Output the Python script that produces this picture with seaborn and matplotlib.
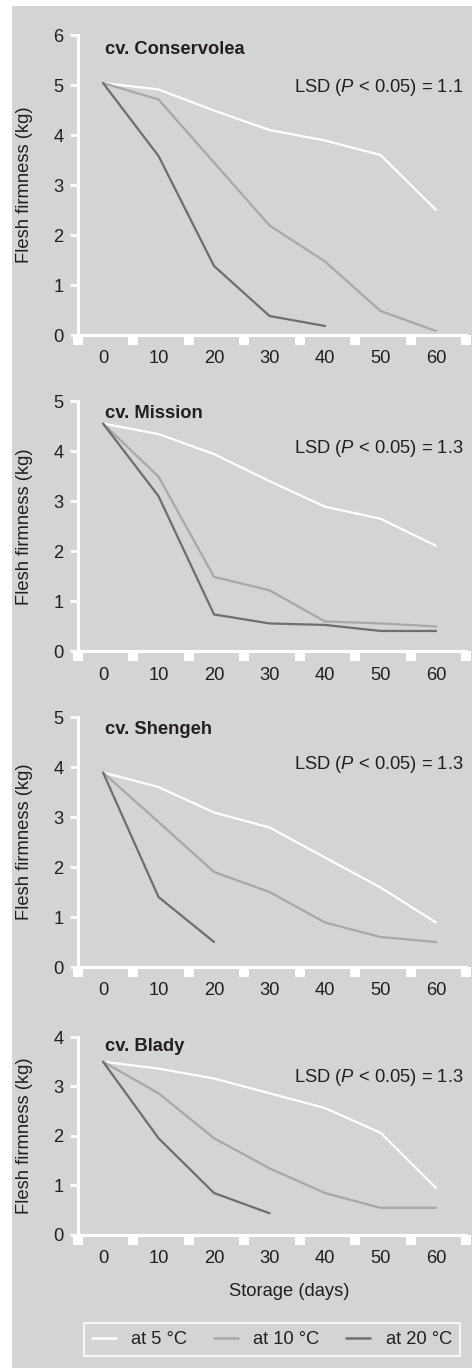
import matplotlib
matplotlib.use("Agg")
import matplotlib.pyplot as plt
import seaborn as sns
import pandas as pd
import numpy as np
from matplotlib.patches import Rectangle

# data
days = [0, 10, 20, 30, 40, 50, 60]
temps = ["at 5 °C", "at 10 °C", "at 20 °C"]
cultivars = ["cv. Conservolea", "cv. Mission", "cv. Shengeh", "cv. Blady"]
lsd_values = ["1.1", "1.3", "1.3", "1.3"]
y_max = [6, 5, 5, 4]

conservolea_5 = [5.04, 4.91, 4.49, 4.10, 3.89, 3.60, 2.50]
conservolea_10 = [5.04, 4.71, 3.45, 2.19, 1.47, 0.48, 0.08]
conservolea_20 = [5.04, 3.58, 1.38, 0.38, 0.18]
mission_5 = [4.55, 4.34, 3.94, 3.40, 2.89, 2.65, 2.11]
mission_10 = [4.55, 3.49, 1.49, 1.22, 0.60, 0.56, 0.50]
mission_20 = [4.55, 3.10, 0.74, 0.56, 0.53, 0.41, 0.41]
shengeh_5 = [3.89, 3.60, 3.09, 2.79, 2.19, 1.59, 0.89]
shengeh_10 = [3.89, 2.90, 1.90, 1.50, 0.89, 0.60, 0.50]
shengeh_20 = [3.89, 1.40, 0.50]
blady_5 = [3.50, 3.36, 3.16, 2.86, 2.56, 2.06, 0.94]
blady_10 = [3.50, 2.86, 1.95, 1.34, 0.84, 0.54, 0.54]
blady_20 = [3.50, 1.95, 0.84, 0.43]

series = [
    [conservolea_5, conservolea_10, conservolea_20],
    [mission_5, mission_10, mission_20],
    [shengeh_5, shengeh_10, shengeh_20],
    [blady_5, blady_10, blady_20],
]

BG = "#d3d4d6"
TXT = "#231f20"
FS = 13.2
palette = {"at 5 °C": "#ffffff", "at 10 °C": "#a7a8aa", "at 20 °C": "#6d6e70"}

sns.set_style("ticks", rc={"axes.facecolor": BG, "axes.edgecolor": "white"})
plt.rcParams["font.family"] = ["Liberation Sans", "DejaVu Sans"]
plt.rcParams["mathtext.fontset"] = "custom"
plt.rcParams["mathtext.it"] = "Liberation Sans:italic"
plt.rcParams["mathtext.rm"] = "Liberation Sans"
plt.rcParams["font.size"] = FS

W, H = 472, 1369
fig = plt.figure(figsize=(W / 100, H / 100), dpi=100, facecolor="white")
bg = Rectangle((12 / W, 1 - 1368 / H), (W - 12) / W, 1362 / H,
               transform=fig.transFigure, facecolor=BG, edgecolor="none", zorder=-10)
fig.patches.append(bg)

# pixel extents (top, bottom) of each panel
panel_px = [(35, 335), (401, 651.5), (717, 967), (1037, 1234.5)]
lsd_y = [4.96, 4.06, 4.06, 3.17]
left_px, right_px = 77.5, 466

axes = []
for i, (top, bot) in enumerate(panel_px):
    ax = fig.add_axes([left_px / W, 1 - bot / H, (right_px - left_px) / W, (bot - top) / H])
    ax.set_facecolor(BG)
    rows = []
    for t, vals in zip(temps, series[i]):
        for d, v in zip(days, vals):
            rows.append({"day": d, "firmness": v, "temp": t})
    df = pd.DataFrame(rows)
    sns.lineplot(data=df, x="day", y="firmness", hue="temp", hue_order=temps,
                 palette=palette, linewidth=1.6, ax=ax, legend=(i == 0),
                 errorbar=None)

    ax.set_xlim(-4.6, 65.4)
    ax.set_ylim(0, y_max[i])
    ax.set_xticks(days)
    ax.set_xticks(np.arange(-4.6, 66, 10), minor=True)
    ax.set_yticks(range(0, y_max[i] + 1))
    sns.despine(ax=ax)
    for s in ["left", "bottom"]:
        ax.spines[s].set_color("white")
        ax.spines[s].set_linewidth(2.2)
    ax.tick_params(axis="x", which="major", length=0, pad=11, labelsize=FS, labelcolor=TXT)
    ax.tick_params(axis="x", which="minor", length=7, width=7.2, color="white", direction="out")
    ax.tick_params(axis="y", length=6, width=2, color="white", pad=4, labelsize=FS, labelcolor=TXT)

    ax.set_ylabel("Flesh firmness (kg)", fontsize=FS, color=TXT)
    ax.yaxis.set_label_coords(-0.1145, 0.5)
    ax.set_xlabel("")

    ax.text(0.071, 0.952, cultivars[i], transform=ax.transAxes, fontsize=FS,
            fontweight="bold", color=TXT, ha="left", va="center")
    ax.text(0.995, lsd_y[i], "LSD ($P$ < 0.05) = " + lsd_values[i],
            transform=ax.get_yaxis_transform(), fontsize=FS, color=TXT,
            ha="right", va="center")
    axes.append(ax)

handles, labels = axes[0].get_legend_handles_labels()
axes[0].get_legend().remove()

axes[-1].set_xlabel("Storage (days)", fontsize=FS, color=TXT)
axes[-1].xaxis.set_label_coords(0.544, -0.2456)

leg = fig.legend(handles, labels, loc="center", bbox_to_anchor=(272 / W, 1 - 1339.5 / H),
                 ncol=3, frameon=True, fancybox=False, fontsize=FS,
                 handlelength=1.3, handletextpad=0.85, columnspacing=1.45,
                 borderpad=0.45)
leg.get_frame().set_facecolor(BG)
leg.get_frame().set_edgecolor("white")
leg.get_frame().set_linewidth(1.5)
for t in leg.get_texts():
    t.set_color(TXT)
for h in leg.legend_handles:
    h.set_linewidth(1.8)

fig.savefig("out.png", dpi=100, facecolor="white")
